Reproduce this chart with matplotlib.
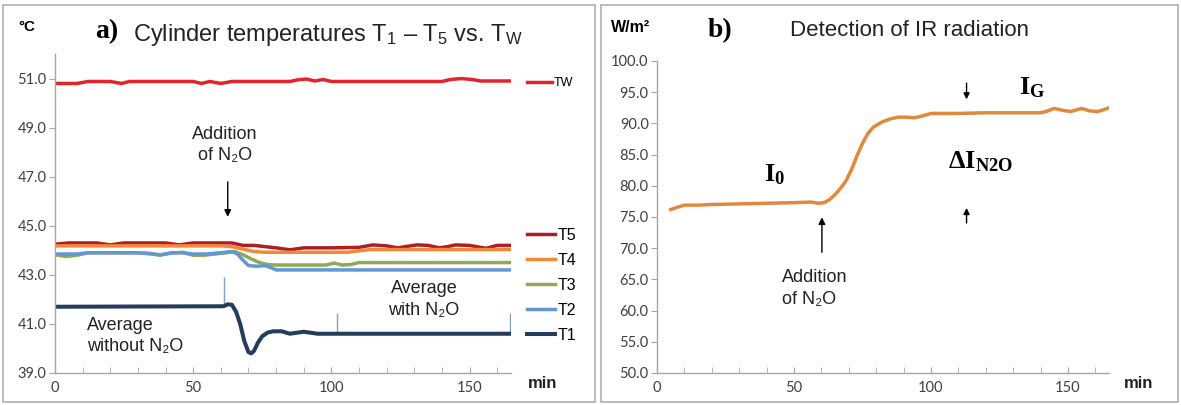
import numpy as np
import matplotlib
matplotlib.use("Agg")
import matplotlib.pyplot as plt
from matplotlib.ticker import MultipleLocator, FormatStrFormatter
from matplotlib.patches import Rectangle

plt.rcParams['font.family'] = ['Liberation Sans', 'DejaVu Sans']
plt.rcParams['mathtext.fontset'] = 'custom'
plt.rcParams['mathtext.rm'] = 'Liberation Sans'
plt.rcParams['mathtext.it'] = 'Liberation Sans:italic'
plt.rcParams['mathtext.bf'] = 'Liberation Serif:bold'

# ---- panel a) cylinder temperatures (deg C vs min) ----
tw_t = [0, 8, 12, 20, 24, 27, 32, 50, 53, 56, 60, 64, 85, 88, 91, 94, 97, 100, 104, 140, 143, 147, 151, 154, 165]
tw_v = [50.8, 50.8, 50.88, 50.88, 50.8, 50.88, 50.88, 50.88, 50.8, 50.88, 50.8, 50.88, 50.88, 50.95, 50.98,
        50.9, 50.96, 50.88, 50.88, 50.88, 50.96, 51.0, 50.96, 50.9, 50.9]

t5_t = [0, 5, 10, 15, 20, 25, 30, 35, 40, 45, 50, 55, 60, 64, 68, 72, 76, 80, 85, 90, 100, 110, 115, 120, 124,
        128, 131, 135, 139, 142, 145, 150, 156, 160, 165]
t5_v = [44.25, 44.3, 44.3, 44.3, 44.22, 44.3, 44.3, 44.3, 44.3, 44.22, 44.3, 44.3, 44.3, 44.3, 44.2, 44.2,
        44.15, 44.1, 44.02, 44.1, 44.1, 44.12, 44.22, 44.18, 44.1, 44.17, 44.22, 44.2, 44.1, 44.15, 44.22,
        44.2, 44.08, 44.2, 44.2]

t4_t = [0, 60, 64, 68, 72, 76, 106, 110, 114, 165]
t4_v = [44.18, 44.18, 44.15, 44.05, 43.95, 43.92, 43.92, 43.98, 44.03, 44.03]

t3_t = [0, 4, 8, 12, 16, 30, 34, 38, 42, 46, 50, 54, 58, 62, 65, 68, 71, 74, 77, 80, 98, 101, 104, 107, 110, 165]
t3_v = [43.82, 43.75, 43.8, 43.9, 43.9, 43.9, 43.88, 43.82, 43.88, 43.92, 43.8, 43.8, 43.85, 43.9, 43.95,
        43.82, 43.65, 43.5, 43.42, 43.4, 43.4, 43.48, 43.4, 43.42, 43.5, 43.5]

t2_t = [0, 8, 12, 30, 35, 38, 42, 46, 50, 55, 60, 64, 66, 68, 70, 73, 76, 78, 80, 165]
t2_v = [43.85, 43.85, 43.9, 43.9, 43.85, 43.8, 43.9, 43.9, 43.85, 43.85, 43.9, 43.95, 43.85, 43.6, 43.38,
        43.35, 43.38, 43.3, 43.2, 43.2]

t1_t = [0, 61, 62.5, 64, 65.5, 67, 68.5, 70, 71, 72, 73.5, 75, 77, 79, 82, 85, 88, 90, 92, 95, 165]
t1_v = [41.7, 41.72, 41.8, 41.78, 41.5, 41.0, 40.3, 39.85, 39.8, 39.9, 40.25, 40.5, 40.65, 40.7, 40.7, 40.6,
        40.65, 40.68, 40.65, 40.6, 40.6]

# averaging window markers (time, low, high)
mark_t = [61, 102, 164.5]
mark_lo = [41.8, 40.6, 40.6]
mark_hi = [42.9, 41.45, 41.45]

# ---- panel b) IR radiation (W/m2 vs min) ----
ir_t = [5, 7, 10, 15, 20, 30, 40, 50, 56, 59, 61, 63, 65, 67, 69, 71, 73, 75, 77, 79, 82, 85, 88, 91, 94, 97,
        100, 110, 120, 130, 140, 142, 145, 148, 151, 155, 158, 161, 165]
ir_v = [76.2, 76.5, 76.9, 76.9, 77.0, 77.1, 77.2, 77.3, 77.4, 77.2, 77.3, 77.8, 78.6, 79.6, 80.8, 82.6, 84.8,
        86.8, 88.4, 89.4, 90.2, 90.7, 91.0, 91.0, 90.9, 91.2, 91.6, 91.6, 91.7, 91.7, 91.7, 91.9, 92.4, 92.1,
        91.9, 92.4, 92.0, 91.9, 92.5]

col_tw = '#E5232C'
col_t5 = '#B01E24'
col_t4 = '#F08A3A'
col_t3 = '#8FAA52'
col_t2 = '#6298D2'
col_t1 = '#243D5C'
col_ir = '#E0893E'
tick_col = '#404040'
spine_col = '#A6A6A6'
text_col = '#222222'

fig = plt.figure(figsize=(11.81, 4.05), dpi=100)

# panel frames
fig.patches.append(Rectangle((3 / 1181, 3 / 405), 592 / 1181, 397 / 405, transform=fig.transFigure,
                             fill=False, edgecolor='#B0B0B0', linewidth=1.2))
fig.patches.append(Rectangle((601 / 1181, 3 / 405), 577 / 1181, 397 / 405, transform=fig.transFigure,
                             fill=False, edgecolor='#B0B0B0', linewidth=1.2))


def style_axis(ax, ymajor, yfmt):
    for s in ['top', 'right']:
        ax.spines[s].set_visible(False)
    for s in ['left', 'bottom']:
        ax.spines[s].set_color(spine_col)
        ax.spines[s].set_linewidth(1.0)
    ax.xaxis.set_major_locator(MultipleLocator(50))
    ax.xaxis.set_minor_locator(MultipleLocator(10))
    ax.yaxis.set_major_locator(MultipleLocator(ymajor))
    ax.yaxis.set_major_formatter(FormatStrFormatter(yfmt))
    ax.tick_params(axis='x', which='both', direction='in', length=4, color=spine_col,
                   labelsize=10.5, labelcolor=tick_col, pad=6)
    ax.tick_params(axis='y', which='both', direction='out', length=4, color=spine_col,
                   labelsize=10.5, labelcolor=tick_col, pad=2)
    for lab in ax.get_xticklabels() + ax.get_yticklabels():
        lab.set_family('Lato')


# ---------------- panel a ----------------
ax1 = fig.add_axes([55 / 1181, 1 - 373 / 405, 456 / 1181, 319 / 405])
ax1.set_xlim(0, 165)
ax1.set_ylim(39, 52)
style_axis(ax1, 2, '%.1f')
ax1.set_yticks(np.arange(39, 52, 2))
for lab in ax1.get_yticklabels():
    lab.set_family('Lato')

ax1.vlines(mark_t, mark_lo, mark_hi, color='#7FA0CC', linewidth=1.0)
lw = 2.5
l_tw, = ax1.plot(tw_t, tw_v, color=col_tw, lw=lw, solid_joinstyle='round', label='TW')
l_t5, = ax1.plot(t5_t, t5_v, color=col_t5, lw=lw, solid_joinstyle='round', label='T5')
l_t4, = ax1.plot(t4_t, t4_v, color=col_t4, lw=lw, solid_joinstyle='round', label='T4')
l_t3, = ax1.plot(t3_t, t3_v, color=col_t3, lw=lw, solid_joinstyle='round', label='T3')
l_t2, = ax1.plot(t2_t, t2_v, color=col_t2, lw=lw, solid_joinstyle='round', label='T2')
l_t1, = ax1.plot(t1_t, t1_v, color=col_t1, lw=2.9, solid_joinstyle='round', label='T1')

leg_tw = ax1.legend(handles=[l_tw], loc='center left', bbox_to_anchor=(1.035, (373 - 83) / 319),
                    frameon=False, fontsize=9, handlelength=2.0, handletextpad=0.15,
                    borderpad=0, borderaxespad=0)
ax1.add_artist(leg_tw)
ax1.legend(handles=[l_t5, l_t4, l_t3, l_t2, l_t1], loc='upper left',
           bbox_to_anchor=(1.035, (373 - 228) / 319), frameon=False, fontsize=11.5,
           handlelength=1.75, handletextpad=0.15, labelspacing=0.62, borderpad=0, borderaxespad=0)

ax1.annotate('', xy=(62.5, 45.25), xytext=(62.5, 46.9),
             arrowprops=dict(arrowstyle='-|>', color='black', lw=1.0, mutation_scale=10))
ax1.text(61.5, 48.3, 'Addition\nof N\u2082O', ha='center', va='center', fontsize=13,
         color=text_col, linespacing=1.35)
ax1.text(11.5, 40.5, 'Average\nwithout N\u2082O', ha='left', va='center', fontsize=13,
         color=text_col, linespacing=1.35)
ax1.text(133.5, 42.0, 'Average\nwith N\u2082O', ha='center', va='center', fontsize=13,
         color=text_col, linespacing=1.35)

fig.text(95 / 1181, 1 - 32 / 405, 'a)', fontsize=20, fontweight='bold', family='Liberation Serif',
         ha='left', va='center')
fig.text(133 / 1181, 1 - 35 / 405, 'Cylinder temperatures T$_1$ \u2013 T$_5$ vs. T$_\\mathrm{W}$',
         fontsize=17, ha='left', va='center', color=text_col)
fig.text(18 / 1181, 1 - 27 / 405, '\u00b0C', fontsize=11, fontweight='bold', ha='left', va='center')
fig.text(528 / 1181, 1 - 383 / 405, 'min', fontsize=12, fontweight='bold', ha='left', va='center',
         color=text_col)

# ---------------- panel b ----------------
ax2 = fig.add_axes([657 / 1181, 1 - 373 / 405, 452 / 1181, 312 / 405])
ax2.set_xlim(0, 165)
ax2.set_ylim(50, 100)
style_axis(ax2, 5, '%.1f')

ax2.plot(ir_t, ir_v, color=col_ir, lw=lw, solid_joinstyle='round')

ax2.annotate('', xy=(60.2, 75.4), xytext=(60.2, 68.9),
             arrowprops=dict(arrowstyle='-|>', color='black', lw=1.0, mutation_scale=10))
ax2.text(45.5, 63.5, 'Addition\nof N\u2082O', ha='left', va='center', fontsize=13,
         color=text_col, linespacing=1.35)
ax2.annotate('', xy=(113, 93.4), xytext=(113, 96.9),
             arrowprops=dict(arrowstyle='-|>', color='black', lw=1.0, mutation_scale=9))
ax2.annotate('', xy=(113, 76.9), xytext=(113, 73.6),
             arrowprops=dict(arrowstyle='-|>', color='black', lw=1.0, mutation_scale=9))
ax2.text(43, 81.7, r'$\mathbf{I_0}$', ha='center', va='center', fontsize=19)
ax2.text(137, 95.7, r'$\mathbf{I_G}$', ha='center', va='center', fontsize=19)
ax2.text(118, 83.8, r'$\mathbf{\Delta I_{N2O}}$', ha='center', va='center', fontsize=19)

fig.text(708 / 1181, 1 - 31 / 405, 'b)', fontsize=20, fontweight='bold', family='Liberation Serif',
         ha='left', va='center')
fig.text(790 / 1181, 1 - 31 / 405, 'Detection of IR radiation', fontsize=16, ha='left', va='center',
         color=text_col)
fig.text(611 / 1181, 1 - 27 / 405, 'W/m\u00b2', fontsize=11.5, fontweight='bold', ha='left', va='center')
fig.text(1124 / 1181, 1 - 383 / 405, 'min', fontsize=12, fontweight='bold', ha='left', va='center',
         color=text_col)

fig.savefig('out.png', dpi=100)
